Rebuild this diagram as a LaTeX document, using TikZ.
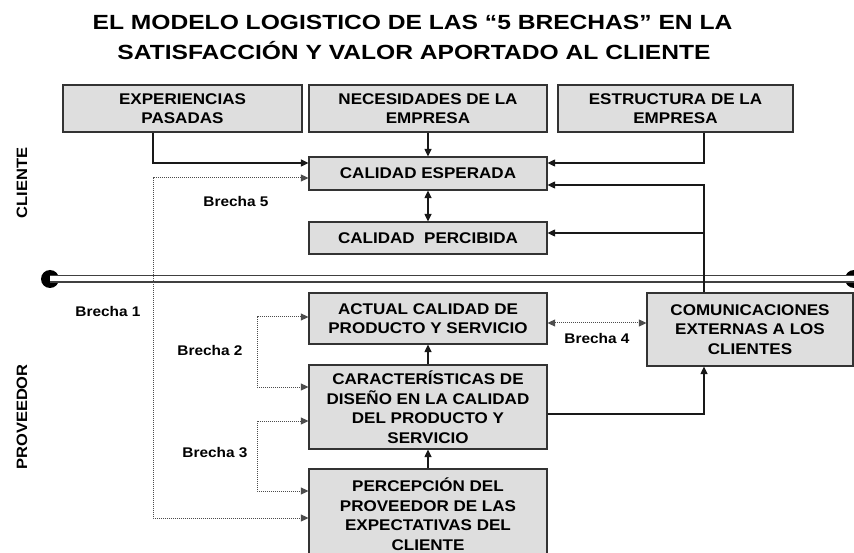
\documentclass[tikz,border=0pt]{standalone}
\usepackage{fontspec}
\setmainfont{Liberation Sans}
\newfontfamily\titlefont[FakeStretch=1.2]{Liberation Sans}
\newfontfamily\boxfont[FakeStretch=1.1]{Liberation Sans}
\usetikzlibrary{arrows.meta}
\begin{document}
\begin{tikzpicture}[x=1pt,y=-1pt,
  box/.style={draw=black!80, fill=black!13, line width=1.2pt, align=center, inner sep=0pt,
    font=\boxfont\bfseries\fontsize{15.5}{19.5}\selectfont},
  tip/.tip={Triangle[length=7.5pt,width=7pt]},
  conn/.style={line width=1.2pt, draw=black!90, -tip},
  dots/.style={line width=1pt, draw=black!70, dash pattern=on 1pt off 1pt, tip-tip},
  gap/.style={font=\boxfont\bfseries\fontsize{14}{16}\selectfont},
  side/.style={font=\boxfont\bfseries\fontsize{15}{18}\selectfont, rotate=90},
  ttl/.style={font=\titlefont\bfseries\fontsize{20.5}{24}\selectfont}
]
\useasboundingbox (0,0) rectangle (854,553);
\fill[white] (0,0) rectangle (854,553);

% title
\node[ttl] (t1) at (412.5,22) {EL MODELO LOGISTICO DE LAS “5 BRECHAS” EN LA};
\node[ttl] (t2) at (414,50.5) {SATISFACCIÓN Y VALOR APORTADO AL CLIENTE};

% side labels
\node[side] (cli) at (22,183) {CLIENTE};
\node[side] (pro) at (22,417) {PROVEEDOR};

% helper x positions
\coordinate (lx) at (153,0);
\coordinate (rx) at (704,0);
\coordinate (gx) at (257,0);

% separator
\node[circle, fill=black, minimum size=18pt, inner sep=0pt] (ldot) at (50,279) {};
\node[circle, fill=black, minimum size=18pt, inner sep=0pt] (rdot) at (854,279) {};
\draw[draw=black!75, line width=1.1pt, double=white, double distance=5pt] (ldot.center) -- (rdot.center);

% boxes
\node[box, minimum width=239pt, minimum height=47pt] (exp) at (182.5,108.5) {EXPERIENCIAS\\PASADAS};
\node[box, minimum width=238pt, minimum height=47pt] (nec) at (428,108.5) {NECESIDADES DE LA\\EMPRESA};
\node[box, minimum width=235pt, minimum height=47pt] (est) at (675.5,108.5) {ESTRUCTURA DE LA\\EMPRESA};
\node[box, minimum width=238pt, minimum height=33pt] (ce) at (428,173.5) {CALIDAD ESPERADA};
\node[box, minimum width=238pt, minimum height=32pt] (cp) at (428,238) {CALIDAD~~PERCIBIDA};
\node[box, minimum width=238pt, minimum height=51pt] (act) at (428,318.5) {ACTUAL CALIDAD DE\\PRODUCTO Y SERVICIO};
\node[box, minimum width=238pt, minimum height=84pt] (car) at (428,407) {CARACTERÍSTICAS DE\\DISEÑO EN LA CALIDAD\\DEL PRODUCTO Y\\SERVICIO};
\node[box, minimum width=238pt, minimum height=90pt] (per) at (428,514) {PERCEPCIÓN DEL\\PROVEEDOR DE LAS\\EXPECTATIVAS DEL\\CLIENTE};
\node[box, minimum width=206pt, minimum height=73pt] (com) at (750,329.5) {COMUNICACIONES\\EXTERNAS A LOS\\CLIENTES};

% solid connectors
\draw[conn] (exp.south -| lx) |- (ce.west |- 0,163);
\draw[conn] (nec.south) -- (ce.north);
\draw[conn] (est.south -| rx) |- (ce.east |- 0,163);
\draw[conn] (com.north -| rx) |- (ce.east |- 0,185);
\draw[conn] (rx |- 0,233) -- (cp.east |- 0,233);
\draw[conn, tip-tip] (ce.south) -- (cp.north);
\draw[conn] (car.north) -- (act.south);
\draw[conn] (per.north) -- (car.south);
\draw[conn] (car.east |- 0,414) -| (com.south -| rx);

% dotted gaps
\draw[dots] (ce.west |- 0,178) -| (lx |- 0,518) -- (per.west |- 0,518);
\draw[dots] (act.west |- 0,317) -| (gx |- 0,387) -- (car.west |- 0,387);
\draw[dots] (car.west |- 0,421) -| (gx |- 0,491) -- (per.west |- 0,491);
\draw[dots] (act.east |- 0,323) -- (com.west |- 0,323);

% gap labels
\node[gap] (b5) at (236,201) {Brecha 5};
\node[gap] (b1) at (108,311) {Brecha 1};
\node[gap] (b2) at (210,350) {Brecha 2};
\node[gap] (b3) at (215,453) {Brecha 3};
\node[gap] (b4) at (597,338) {Brecha 4};
\end{tikzpicture}
\end{document}
